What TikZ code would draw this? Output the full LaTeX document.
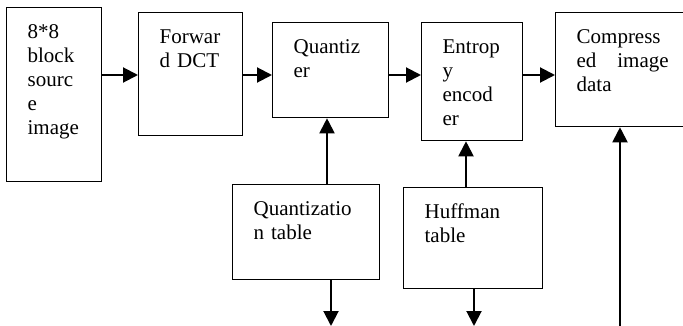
\documentclass[tikz,border=0pt]{standalone}
\usepackage{fontspec}
\setmainfont{Liberation Serif}
\usetikzlibrary{arrows.meta}
\tikzset{
  blk/.style={draw, line width=1.3pt, anchor=north west, inner xsep=21pt, inner ysep=0pt,
              align=left, font=\fontsize{21}{24}\selectfont, text height=31pt},
  flow/.style={-{Triangle[length=15pt,width=15pt]}, line width=2pt},
}
\begin{document}
\begin{tikzpicture}[x=1pt, y=-1pt]
\useasboundingbox (0,0) rectangle (683,326);

% Encoder chain
\node[blk, text width=53pt, text depth=143pt] (src) at (6,7) {8*8\\block\\sourc\\e\\image};
\node[blk, text width=62pt, text depth=92pt] (dct) at (138,12) {Forwar\\d DCT};
\node[blk, text width=74pt, text depth=64pt] (quant) at (272,22) {Quantiz\\er};
\node[blk, text width=59pt, text depth=87pt] (entropy) at (421,22) {Entrop\\y\\encod\\er};
\node[blk, text width=92pt, text depth=83pt] (comp) at (555,12) {Compress\\ed\hfill image\\data};

% Tables
\node[blk, text width=105pt, text depth=64pt] (qtab) at (232,184) {Quantizatio\\n table};
\node[blk, text width=97pt, text depth=70pt] (huff) at (403,187) {Huffman\\table};

% Helper coordinates
\coordinate (row) at (0,75);
\coordinate (qup) at (327,0);
\coordinate (hup) at (466,0);
\coordinate (qout) at (331,326);
\coordinate (hout) at (474,326);
\coordinate (cin) at (620,326);

% Main flow
\draw[flow] (src.east |- row) -- (dct.west |- row);
\draw[flow] (dct.east |- row) -- (quant.west |- row);
\draw[flow] (quant.east |- row) -- (entropy.west |- row);
\draw[flow] (entropy.east |- row) -- (comp.west |- row);

% Table links
\draw[flow] (qtab.north -| qup) -- (quant.south -| qup);
\draw[flow] (huff.north -| hup) -- (entropy.south -| hup);
\draw[flow] (qtab.south -| qout) -- (qout);
\draw[flow] (huff.south -| hout) -- (hout);
\draw[flow] (cin) -- (comp.south -| cin);
\end{tikzpicture}
\end{document}
